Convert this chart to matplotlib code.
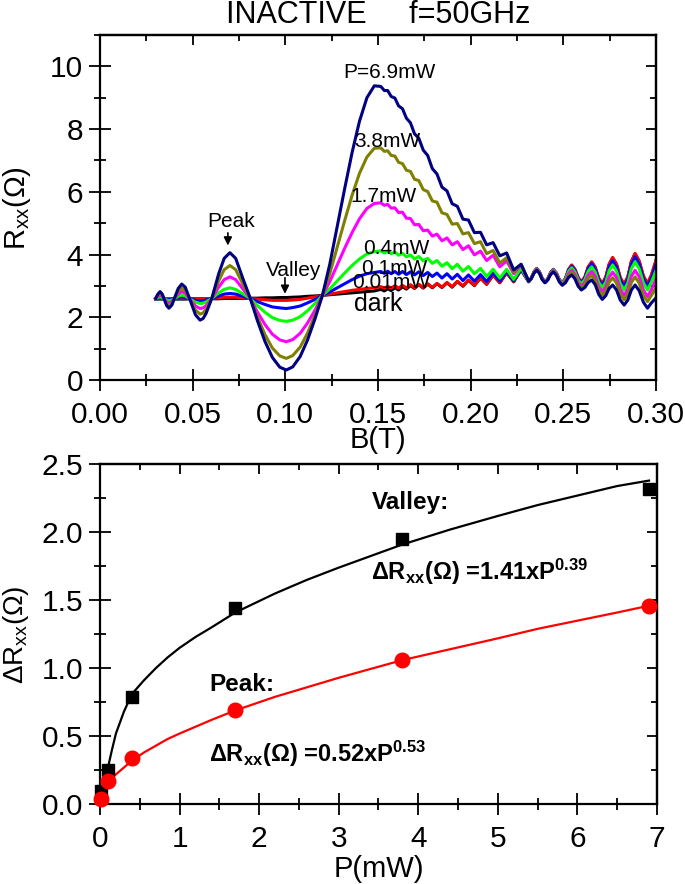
import numpy as np
import matplotlib
matplotlib.use('Agg')
import matplotlib.pyplot as plt
from matplotlib.ticker import MultipleLocator, FormatStrFormatter

plt.rcParams['font.family'] = ['Liberation Sans', 'DejaVu Sans']
plt.rcParams['mathtext.fontset'] = 'custom'
plt.rcParams['mathtext.rm'] = 'Liberation Sans'
plt.rcParams['mathtext.it'] = 'Liberation Sans:italic'
plt.rcParams['mathtext.bf'] = 'Liberation Sans:bold'
plt.rcParams['mathtext.default'] = 'regular'

# --- top panel: Rxx(B) for each microwave power ---
B = [0.0300, 0.0312, 0.0324, 0.0336, 0.0348, 0.0360, 0.0372, 0.0388, 0.0405, 0.0422,
     0.0441, 0.0460, 0.0490, 0.0515, 0.0540, 0.0556, 0.0572, 0.0603, 0.0640, 0.0670,
     0.0701, 0.0732, 0.0770, 0.0810, 0.0850, 0.0890, 0.0930, 0.0970, 0.1005, 0.1040,
     0.1080, 0.1120, 0.1160, 0.1200,
     0.1240, 0.1280, 0.1320, 0.1360, 0.1400, 0.1440, 0.1480,
     0.1515, 0.1534, 0.1552, 0.1571, 0.1591, 0.1611, 0.1632, 0.1653, 0.1675, 0.1697,
     0.1720, 0.1744, 0.1768, 0.1793, 0.1818, 0.1845, 0.1872, 0.1900, 0.1928, 0.1958,
     0.1988, 0.2020, 0.2053, 0.2086, 0.2121, 0.2157, 0.2194, 0.2232, 0.2272, 0.2313,
     0.2327, 0.2342, 0.2356, 0.2371, 0.2386, 0.2401, 0.2416, 0.2431, 0.2446, 0.2462,
     0.2478, 0.2494, 0.2511, 0.2528, 0.2545, 0.2562, 0.2580, 0.2597, 0.2616, 0.2634,
     0.2653, 0.2672, 0.2691, 0.2710, 0.2729, 0.2747, 0.2766, 0.2787, 0.2807, 0.2828,
     0.2848, 0.2867, 0.2887, 0.2909, 0.2932, 0.2954, 0.2975, 0.3000]

r_69 = [2.60, 2.74, 2.82, 2.74, 2.55, 2.37, 2.29, 2.39, 2.66, 2.92, 3.06, 2.96, 2.49, 2.08,
        1.91, 1.96, 2.12, 2.60, 3.38, 3.88, 4.06, 3.88, 3.25, 2.62, 1.88, 1.23, 0.72, 0.41,
        0.32, 0.42, 0.75, 1.28, 1.95, 2.70,
        3.70, 4.90, 6.10, 7.25, 8.25, 9.00, 9.38,
        9.36, 9.23, 9.23, 9.04, 8.99, 8.74, 8.65, 8.35, 8.20, 7.85, 7.71, 7.33, 7.16, 6.74,
        6.57, 6.15, 6.03, 5.62, 5.54, 5.13, 5.10, 4.70, 4.71, 4.31, 4.38, 3.96, 4.05, 3.51,
        3.69, 3.15,
        3.24, 3.41, 3.50, 3.40, 3.20, 3.10, 3.19, 3.36, 3.45, 3.34, 3.13, 3.02, 3.10, 3.27,
        3.35, 3.23, 2.99, 2.87, 2.95, 3.11, 3.19, 3.04, 2.73, 2.57, 2.69, 2.92, 3.03, 2.87,
        2.55, 2.39, 2.55, 2.87, 3.03, 2.85, 2.48, 2.29, 2.46, 2.62]
r_38 = [2.60, 2.70, 2.76, 2.70, 2.56, 2.43, 2.38, 2.45, 2.64, 2.83, 2.93, 2.86, 2.52, 2.23,
        2.10, 2.14, 2.25, 2.60, 3.16, 3.52, 3.65, 3.52, 3.07, 2.60, 2.00, 1.45, 1.02, 0.77,
        0.69, 0.78, 1.05, 1.50, 2.07, 2.70,
        3.40, 4.24, 5.08, 5.89, 6.59, 7.11, 7.39,
        7.40, 7.29, 7.31, 7.16, 7.14, 6.94, 6.90, 6.69, 6.65, 6.40, 6.36, 6.07, 6.01, 5.71,
        5.67, 5.33, 5.28, 4.97, 4.99, 4.66, 4.70, 4.35, 4.41, 4.03, 4.13, 3.73, 3.90, 3.45,
        3.69, 3.15,
        3.24, 3.43, 3.52, 3.42, 3.21, 3.11, 3.20, 3.38, 3.47, 3.36, 3.15, 3.04, 3.14, 3.33,
        3.43, 3.31, 3.06, 2.94, 3.04, 3.24, 3.34, 3.18, 2.86, 2.70, 2.84, 3.12, 3.26, 3.09,
        2.74, 2.56, 2.74, 3.11, 3.29, 3.09, 2.70, 2.50, 2.70, 2.95]
r_17 = [2.60, 2.67, 2.70, 2.67, 2.58, 2.49, 2.45, 2.50, 2.63, 2.75, 2.82, 2.77, 2.55, 2.36,
        2.28, 2.30, 2.37, 2.60, 2.96, 3.20, 3.29, 3.20, 2.91, 2.60, 2.16, 1.77, 1.46, 1.28,
        1.22, 1.29, 1.49, 1.82, 2.23, 2.70,
        3.14, 3.67, 4.20, 4.70, 5.14, 5.47, 5.63,
        5.65, 5.57, 5.60, 5.48, 5.49, 5.34, 5.35, 5.16, 5.15, 4.95, 4.96, 4.76, 4.78, 4.59,
        4.65, 4.44, 4.53, 4.31, 4.41, 4.16, 4.28, 3.99, 4.11, 3.81, 3.98, 3.61, 3.80, 3.39,
        3.67, 3.15,
        3.25, 3.44, 3.53, 3.43, 3.22, 3.11, 3.21, 3.40, 3.49, 3.38, 3.17, 3.06, 3.17, 3.39,
        3.50, 3.37, 3.12, 2.99, 3.11, 3.34, 3.46, 3.30, 2.97, 2.81, 2.97, 3.28, 3.44, 3.26,
        2.89, 2.70, 2.90, 3.30, 3.50, 3.29, 2.87, 2.66, 2.88, 3.22]
r_04 = [2.60, 2.63, 2.65, 2.63, 2.59, 2.55, 2.53, 2.55, 2.61, 2.67, 2.71, 2.68, 2.57, 2.48,
        2.44, 2.45, 2.49, 2.60, 2.78, 2.89, 2.94, 2.89, 2.75, 2.60, 2.37, 2.16, 1.99, 1.90,
        1.87, 1.91, 2.02, 2.21, 2.44, 2.70,
        2.91, 3.16, 3.41, 3.65, 3.86, 4.02, 4.09,
        4.12, 4.05, 4.11, 4.03, 4.08, 3.98, 4.04, 3.93, 3.99, 3.86, 3.94, 3.80, 3.88, 3.72,
        3.81, 3.63, 3.74, 3.55, 3.69, 3.47, 3.62, 3.39, 3.56, 3.30, 3.53, 3.25, 3.53, 3.21,
        3.57, 3.14,
        3.24, 3.44, 3.54, 3.44, 3.23, 3.12, 3.22, 3.41, 3.51, 3.40, 3.19, 3.08, 3.21, 3.46,
        3.58, 3.45, 3.19, 3.06, 3.20, 3.47, 3.61, 3.44, 3.11, 2.94, 3.12, 3.49, 3.67, 3.47,
        3.07, 2.87, 3.10, 3.55, 3.77, 3.55, 3.10, 2.87, 3.12, 3.50]
r_01 = [2.60, 2.62, 2.62, 2.62, 2.59, 2.57, 2.57, 2.58, 2.61, 2.64, 2.65, 2.64, 2.59, 2.54,
        2.52, 2.53, 2.55, 2.60, 2.68, 2.74, 2.76, 2.74, 2.67, 2.60, 2.50, 2.41, 2.33, 2.30,
        2.28, 2.31, 2.36, 2.46, 2.57, 2.70,
        2.81, 2.94, 3.07, 3.20, 3.31, 3.39, 3.43,
        3.46, 3.40, 3.47, 3.39, 3.46, 3.37, 3.46, 3.36, 3.45, 3.35, 3.45, 3.33, 3.43, 3.30,
        3.41, 3.25, 3.39, 3.22, 3.37, 3.17, 3.35, 3.15, 3.36, 3.14, 3.41, 3.16, 3.47, 3.16,
        3.54, 3.14,
        3.24, 3.45, 3.55, 3.45, 3.24, 3.13, 3.23, 3.42, 3.52, 3.41, 3.20, 3.09, 3.23, 3.50,
        3.63, 3.50, 3.23, 3.10, 3.25, 3.56, 3.71, 3.54, 3.19, 3.02, 3.22, 3.61, 3.81, 3.60,
        3.19, 2.98, 3.22, 3.69, 3.93, 3.70, 3.23, 2.99, 3.24, 3.70]
r_001 = [2.60, 2.60, 2.61, 2.60, 2.60, 2.59, 2.59, 2.59, 2.60, 2.61, 2.61, 2.61, 2.60, 2.59,
         2.58, 2.58, 2.59, 2.60, 2.62, 2.64, 2.64, 2.64, 2.62, 2.60, 2.58, 2.56, 2.54, 2.54,
         2.54, 2.55, 2.57, 2.61, 2.65, 2.70,
         2.74, 2.78, 2.82, 2.86, 2.89, 2.92, 2.94,
         2.98, 2.93, 2.99, 2.93, 3.01, 2.93, 3.02, 2.94, 3.04, 2.94, 3.05, 2.95, 3.07, 2.95,
         3.08, 2.96, 3.11, 2.97, 3.15, 3.00, 3.19, 3.02, 3.26, 3.06, 3.35, 3.11, 3.43, 3.14,
         3.52, 3.14,
         3.25, 3.46, 3.56, 3.45, 3.24, 3.13, 3.23, 3.43, 3.53, 3.42, 3.21, 3.10, 3.24, 3.53,
         3.67, 3.54, 3.27, 3.13, 3.29, 3.61, 3.77, 3.60, 3.25, 3.08, 3.29, 3.70, 3.91, 3.70,
         3.27, 3.05, 3.30, 3.79, 4.04, 3.80, 3.32, 3.08, 3.35, 3.82]
r_dark = [2.58, 2.58, 2.58, 2.58, 2.58, 2.58, 2.58, 2.58, 2.58, 2.58, 2.58, 2.58, 2.59, 2.59,
          2.59, 2.59, 2.59, 2.59, 2.59, 2.60, 2.60, 2.60, 2.60, 2.61, 2.61, 2.62, 2.62, 2.63,
          2.63, 2.64, 2.65, 2.67, 2.68, 2.70,
          2.72, 2.74, 2.76, 2.78, 2.80, 2.82, 2.84,
          2.89, 2.84, 2.91, 2.85, 2.94, 2.87, 2.97, 2.90, 3.01, 2.92, 3.04, 2.93, 3.06, 2.94,
          3.07, 2.95, 3.10, 2.96, 3.14, 2.99, 3.18, 3.01, 3.25, 3.05, 3.34, 3.10, 3.42, 3.13,
          3.51, 3.13,
          3.23, 3.44, 3.54, 3.43, 3.22, 3.11, 3.21, 3.41, 3.51, 3.40, 3.19, 3.08, 3.22, 3.51,
          3.65, 3.52, 3.25, 3.11, 3.27, 3.59, 3.75, 3.58, 3.23, 3.06, 3.27, 3.68, 3.89, 3.68,
          3.25, 3.03, 3.28, 3.77, 4.02, 3.78, 3.30, 3.06, 3.33, 3.80]

# --- bottom panel: amplitude vs power ---
P_mw = [0.01, 0.1, 0.4, 1.7, 3.8, 6.9]
valley_dR = [0.10, 0.25, 0.79, 1.44, 1.95, 2.32]
peak_dR = [0.04, 0.17, 0.34, 0.69, 1.06, 1.46]

valley_fit_P = [0.06, 0.08, 0.1, 0.15, 0.2, 0.3, 0.4, 0.55, 0.7, 0.85, 1.0, 1.2, 1.4, 1.7,
                2.2, 2.6, 3.0, 3.8, 4.4, 5.0, 5.5, 6.0, 6.5, 6.9]
valley_fit = [0.13, 0.20, 0.27, 0.40, 0.52, 0.68, 0.81, 0.91, 1.00, 1.08, 1.15, 1.23, 1.30,
              1.41, 1.55, 1.65, 1.74, 1.91, 2.02, 2.12, 2.20, 2.27, 2.34, 2.38]
peak_fit_P = [0.1, 0.15, 0.2, 0.3, 0.4, 0.55, 0.7, 0.85, 1.0, 1.4, 1.7, 2.2, 2.6, 3.0, 3.8,
              4.4, 5.0, 5.5, 6.0, 6.5, 6.9]
peak_fit = [0.16, 0.19, 0.22, 0.27, 0.32, 0.38, 0.43, 0.48, 0.52, 0.62, 0.69, 0.79, 0.86,
            0.93, 1.06, 1.14, 1.22, 1.29, 1.35, 1.41, 1.46]

fig = plt.figure(figsize=(6.85, 8.84), dpi=100)
ax1 = fig.add_axes([0.1460, 0.5701, 0.8117, 0.3903])
ax2 = fig.add_axes([0.1460, 0.0902, 0.8131, 0.3846])


def frame(ax, xmaj, xmin, ymaj, ymin, xfmt, yfmt):
    ax.xaxis.set_major_locator(MultipleLocator(xmaj))
    ax.xaxis.set_minor_locator(MultipleLocator(xmin))
    ax.yaxis.set_major_locator(MultipleLocator(ymaj))
    ax.yaxis.set_minor_locator(MultipleLocator(ymin))
    ax.xaxis.set_major_formatter(FormatStrFormatter(xfmt))
    ax.yaxis.set_major_formatter(FormatStrFormatter(yfmt))
    ax.tick_params(which='major', direction='inout', length=16, width=1.3, labelsize=21.5)
    ax.tick_params(which='minor', direction='inout', length=8.5, width=1.3)
    ax.tick_params(axis='x', pad=7)
    ax.tick_params(axis='y', pad=4)
    for s in ax.spines.values():
        s.set_linewidth(1.6)
    # inward ticks on top and right
    top = ax.secondary_xaxis('top')
    top.xaxis.set_major_locator(MultipleLocator(xmaj))
    top.xaxis.set_minor_locator(MultipleLocator(xmin))
    top.tick_params(which='major', direction='in', length=7, width=1.3, labeltop=False)
    top.tick_params(which='minor', direction='in', length=4, width=1.3)
    right = ax.secondary_yaxis('right')
    right.yaxis.set_major_locator(MultipleLocator(ymaj))
    right.yaxis.set_minor_locator(MultipleLocator(ymin))
    right.tick_params(which='major', direction='in', length=7, width=1.3, labelright=False)
    right.tick_params(which='minor', direction='in', length=4, width=1.3)
    for sec in (top, right):
        for s in sec.spines.values():
            s.set_linewidth(1.6)


# top panel
for vals, col in [(r_dark, 'black'), (r_001, 'red'), (r_01, 'blue'), (r_04, '#00ff00'),
                  (r_17, '#ff00ff'), (r_38, '#808000'), (r_69, '#000080')]:
    ax1.plot(B, vals, color=col, lw=2.2, solid_joinstyle='round')

ax1.set_xlim(0, 0.30)
ax1.set_ylim(0, 11)
frame(ax1, 0.05, 0.025, 2, 1, '%.2f', '%d')
ax1.set_xlabel('B(T)', fontsize=21)
ax1.xaxis.set_label_coords(0.5, -0.132)
ax1.set_ylabel('R$_{xx}$(Ω)', fontsize=21)
ax1.yaxis.set_label_coords(-0.12, 0.5)

lab = dict(ha='center', va='center', fontsize=15)
ax1.text(0.156, 9.82, 'P=6.9mW', **lab)
ax1.text(0.155, 7.62, '3.8mW', **lab)
ax1.text(0.153, 5.84, '1.7mW', **lab)
ax1.text(0.160, 4.20, '0.4mW', **lab)
ax1.text(0.159, 3.57, '0.1mW', **lab)
ax1.text(0.157, 3.12, '0.01mW', **lab)
ax1.text(0.150, 2.42, 'dark', ha='center', va='center', fontsize=18)
ax1.text(0.0707, 5.07, 'Peak', **lab)
ax1.text(0.1047, 3.48, 'Valley', **lab)
arr = dict(arrowstyle='-|>', color='black', lw=1.2, mutation_scale=12)
ax1.annotate('', xy=(0.069, 4.20), xytext=(0.069, 4.78), arrowprops=arr)
ax1.annotate('', xy=(0.0998, 2.66), xytext=(0.0998, 3.35), arrowprops=arr)

fig.text(0.552, 0.974, 'INACTIVE     f=50GHz', ha='center', va='baseline', fontsize=22)

# bottom panel
ax2.plot(valley_fit_P, valley_fit, color='black', lw=1.6, solid_joinstyle='round')
ax2.plot(peak_fit_P, peak_fit, color='red', lw=1.6, solid_joinstyle='round')
ax2.plot(P_mw, valley_dR, 's', color='black', ms=9, clip_on=False, zorder=5)
ax2.plot(P_mw, peak_dR, 'o', color='red', ms=10.5, clip_on=False, zorder=5)
ax2.set_xlim(0, 7)
ax2.set_ylim(0, 2.5)
frame(ax2, 1, 0.5, 0.5, 0.25, '%d', '%.1f')
ax2.set_xlabel('P(mW)', fontsize=21)
ax2.xaxis.set_label_coords(0.5, -0.148)
ax2.set_ylabel('ΔR$_{xx}$(Ω)', fontsize=20)
ax2.yaxis.set_label_coords(-0.124, 0.5)

ax2.text(3.41, 2.22, 'Valley:', ha='left', va='center', fontsize=17.5, fontweight='bold')
ax2.text(3.41, 1.65, r'ΔR$_\mathbf{xx}$(Ω) =1.41xP$^\mathbf{0.39}$', ha='left',
         va='baseline', fontsize=17, fontweight='bold')
ax2.text(1.37, 0.88, 'Peak:', ha='left', va='center', fontsize=17.5, fontweight='bold')
ax2.text(1.37, 0.315, r'ΔR$_\mathbf{xx}$(Ω) =0.52xP$^\mathbf{0.53}$', ha='left',
         va='baseline', fontsize=17, fontweight='bold')

fig.savefig('out.png', dpi=100)
